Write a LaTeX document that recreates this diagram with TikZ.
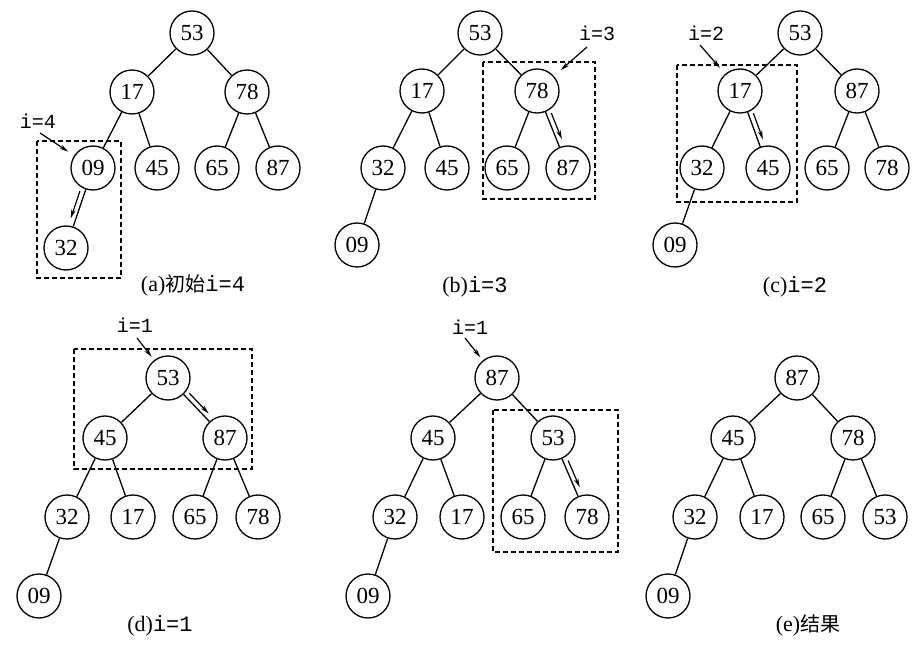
\documentclass[tikz,border=0pt]{standalone}
\usepackage{fontspec}
\setmainfont{Liberation Serif}
\setmonofont{Liberation Mono}
\newfontfamily\cjk{Noto Sans CJK SC}
\usetikzlibrary{calc,arrows.meta}
\newcommand\pararrow[3]{\draw[ptr] ($(#1)!0.31!(#2)!5pt!#3:(#2)$) -- ($(#1)!0.65!(#2)!5pt!#3:(#2)$);}
\begin{document}
\begin{tikzpicture}[x=1pt,y=-1pt,
 nd/.style={circle,draw,line width=1.3pt,minimum size=44pt,inner sep=0pt,font=\fontsize{23}{23}\selectfont},
 edge/.style={line width=1.3pt},
 dbox/.style={draw,line width=1.3pt,dash pattern=on 5pt off 3pt},
 ptr/.style={-{Stealth[length=9pt,width=4.5pt]},line width=1.2pt},
 lbl/.style={font=\fontsize{20}{20}\selectfont\ttfamily,inner sep=0pt},
 captxt/.style={font=\fontsize{22}{22}\selectfont,inner sep=0pt}]
\path[use as bounding box] (0,0) rectangle (922,652);

% ---------- (a) ----------
\node[nd] (a53) at (192,33) {53};
\node[nd] (a17) at (132,92) {17};
\node[nd] (a78) at (247,92) {78};
\node[nd] (a09) at (93,168) {09};
\node[nd] (a45) at (157,168) {45};
\node[nd] (a65) at (217,168) {65};
\node[nd] (a87) at (278,168) {87};
\node[nd] (a32) at (66,248) {32};
\foreach \p/\c in {a53/a17,a53/a78,a17/a09,a17/a45,a78/a65,a78/a87,a09/a32}
  \draw[edge] (\p) -- (\c);
\draw[dbox] (37,141) rectangle (121,278);
\node[lbl] (la) at (38,121) {i=4};
\coordinate (las) at (40,133);
\draw[ptr,shorten >=7pt] (las) -- (a09);
\pararrow{a09}{a32}{-90}
\node[captxt] (ca) at (193,285) {(a){\cjk\fontsize{20}{20}\selectfont 初始}\texttt{i=4}};

% ---------- (b) ----------
\node[nd] (b53) at (480,33) {53};
\node[nd] (b17) at (422,91) {17};
\node[nd] (b78) at (537,91) {78};
\node[nd] (b32) at (383,168) {32};
\node[nd] (b45) at (447,168) {45};
\node[nd] (b65) at (507,168) {65};
\node[nd] (b87) at (568,168) {87};
\node[nd] (b09) at (357,245) {09};
\foreach \p/\c in {b53/b17,b53/b78,b17/b32,b17/b45,b78/b65,b78/b87,b32/b09}
  \draw[edge] (\p) -- (\c);
\draw[dbox] (483,62) rectangle (595,199);
\node[lbl] (lb) at (597,33) {i=3};
\coordinate (lbs) at (587,47);
\draw[ptr,shorten >=9pt] (lbs) -- (b78);
\pararrow{b78}{b87}{90}
\node[captxt] (cb) at (475,287) {(b)\texttt{i=3}};

% ---------- (c) ----------
\node[nd] (c53) at (800,33) {53};
\node[nd] (c17) at (740,91) {17};
\node[nd] (c87) at (857,91) {87};
\node[nd] (c32) at (702,168) {32};
\node[nd] (c45) at (768,168) {45};
\node[nd] (c65) at (827,168) {65};
\node[nd] (c78) at (887,168) {78};
\node[nd] (c09) at (675,245) {09};
\foreach \p/\c in {c53/c17,c53/c87,c17/c32,c17/c45,c87/c65,c87/c78,c32/c09}
  \draw[edge] (\p) -- (\c);
\draw[dbox] (677,65) rectangle (797,202);
\node[lbl] (lc) at (706,33) {i=2};
\coordinate (lcs) at (700,45);
\draw[ptr,shorten >=8pt] (lcs) -- (c17);
\pararrow{c17}{c45}{90}
\node[captxt] (cc) at (795,287) {(c)\texttt{i=2}};

% ---------- (d) ----------
\node[nd] (d53) at (168,378) {53};
\node[nd] (d45) at (105,438) {45};
\node[nd] (d87) at (225,438) {87};
\node[nd] (d32) at (67,517) {32};
\node[nd] (d17) at (133,517) {17};
\node[nd] (d65) at (195,517) {65};
\node[nd] (d78) at (258,517) {78};
\node[nd] (d09) at (39,596) {09};
\foreach \p/\c in {d53/d45,d53/d87,d45/d32,d45/d17,d87/d65,d87/d78,d32/d09}
  \draw[edge] (\p) -- (\c);
\draw[dbox] (74,349) rectangle (252,469);
\node[lbl] (ld) at (135,325) {i=1};
\coordinate (lds) at (137,338);
\draw[ptr,shorten >=4pt] (lds) -- (d53);
\pararrow{d53}{d87}{90}
\node[captxt] (cd) at (160,626) {(d)\texttt{i=1}};

% ---------- middle bottom ----------
\node[nd] (m87) at (497,378) {87};
\node[nd] (m45) at (433,438) {45};
\node[nd] (m53) at (553,438) {53};
\node[nd] (m32) at (395,517) {32};
\node[nd] (m17) at (462,517) {17};
\node[nd] (m65) at (523,517) {65};
\node[nd] (m78) at (587,517) {78};
\node[nd] (m09) at (368,596) {09};
\foreach \p/\c in {m87/m45,m87/m53,m45/m32,m45/m17,m53/m65,m53/m78,m32/m09}
  \draw[edge] (\p) -- (\c);
\draw[dbox] (493,410) rectangle (618,552);
\node[lbl] (lm) at (470,327) {i=1};
\coordinate (lms) at (465,338);
\draw[ptr,shorten >=4pt] (lms) -- (m87);
\pararrow{m53}{m78}{90}

% ---------- (e) ----------
\node[nd] (e87) at (797,378) {87};
\node[nd] (e45) at (733,438) {45};
\node[nd] (e78) at (853,438) {78};
\node[nd] (e32) at (695,517) {32};
\node[nd] (e17) at (762,517) {17};
\node[nd] (e65) at (823,517) {65};
\node[nd] (e53) at (885,517) {53};
\node[nd] (e09) at (668,596) {09};
\foreach \p/\c in {e87/e45,e87/e78,e45/e32,e45/e17,e78/e65,e78/e53,e32/e09}
  \draw[edge] (\p) -- (\c);
\node[captxt] (ce) at (808,625) {(e){\cjk\fontsize{20}{20}\selectfont 结果}};
\end{tikzpicture}
\end{document}
